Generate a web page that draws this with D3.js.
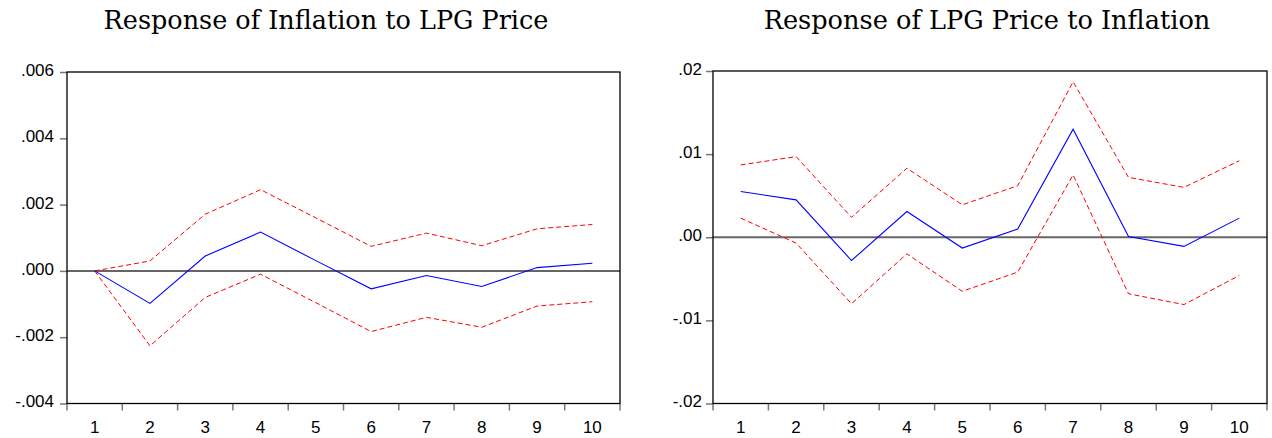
<!DOCTYPE html>
<html>
<head>
<meta charset="utf-8">
<script src="https://cdn.jsdelivr.net/npm/d3@7"></script>
<style>
  body { margin: 0; background: #fff; }
  svg { display: block; }
</style>
</head>
<body>
<svg id="irf"></svg>
<script>
let width = 1272;
let height = 438;

// periods on the x axis
const PERIODS = [1, 2, 3, 4, 5, 6, 7, 8, 9, 10];

// Response of Inflation to LPG Price
const INFL_RESP = [0, -0.00098, 0.00045, 0.00117, 0.00031, -0.00054, -0.00014, -0.00047, 0.0001, 0.00023];
const INFL_UPPER = [0, 0.0003, 0.00171, 0.00245, 0.0016, 0.00074, 0.00114, 0.00076, 0.00127, 0.0014];
const INFL_LOWER = [0, -0.00226, -0.0008, -0.0001, -0.00096, -0.00183, -0.0014, -0.0017, -0.00106, -0.00093];
const INFL_TICKS = [-0.004, -0.002, 0, 0.002, 0.004, 0.006];
const INFL_TICK_LABELS = ['-.004', '-.002', '.000', '.002', '.004', '.006'];

// Response of LPG Price to Inflation
const LPG_RESP = [0.0055, 0.0045, -0.0028, 0.0031, -0.0013, 0.001, 0.013, 0.0001, -0.0011, 0.0023];
const LPG_UPPER = [0.0087, 0.0097, 0.0024, 0.0083, 0.0039, 0.0062, 0.0187, 0.0072, 0.006, 0.0092];
const LPG_LOWER = [0.0023, -0.0007, -0.008, -0.002, -0.0065, -0.0042, 0.0075, -0.0068, -0.0081, -0.0046];
const LPG_TICKS = [-0.02, -0.01, 0, 0.01, 0.02];
const LPG_TICK_LABELS = ['-.02', '-.01', '.00', '.01', '.02'];

let svg = d3.select('#irf')
  .attr('width', width)
  .attr('height', height);

let panels = [
  {
    title: 'Response of Inflation to LPG Price',
    titleX: 326,
    titleW: 445,
    box: {left: 67, right: 620, top: 72, bottom: 403.5},
    labelPad: 6,
    resp: INFL_RESP, upper: INFL_UPPER, lower: INFL_LOWER,
    ticks: INFL_TICKS, tickLabels: INFL_TICK_LABELS
  },
  {
    title: 'Response of LPG Price to Inflation',
    titleX: 987,
    titleW: 447,
    box: {left: 713, right: 1267, top: 71, bottom: 403.5},
    labelPad: 4,
    resp: LPG_RESP, upper: LPG_UPPER, lower: LPG_LOWER,
    ticks: LPG_TICKS, tickLabels: LPG_TICK_LABELS
  }
];

panels.forEach(drawPanel);

function drawPanel(p) {
  let b = p.box;
  let g = svg.append('g');

  let x = d3.scaleBand()
    .domain(PERIODS)
    .range([b.left, b.right]);

  let y = d3.scaleLinear()
    .domain(d3.extent(p.ticks))
    .range([b.bottom, b.top]);

  // title, sized so its width matches the original
  let title = g.append('text')
    .attr('x', p.titleX)
    .attr('y', 29)
    .attr('text-anchor', 'middle')
    .attr('font-family', '"DejaVu Serif", "Liberation Serif", serif')
    .attr('font-size', 24)
    .attr('fill', '#000')
    .text(p.title);
  let tw = title.node().getComputedTextLength();
  title.attr('font-size', Math.min(26, 24 * p.titleW / tw));

  // y axis ticks + labels
  let yAxis = d3.axisLeft(y)
    .tickValues(p.ticks)
    .tickFormat((d, i) => p.tickLabels[i])
    .tickSizeInner(7)
    .tickSizeOuter(0)
    .tickPadding(p.labelPad);

  g.append('g')
    .attr('transform', `translate(${b.left},0)`)
    .call(yAxis)
    .call(a => a.select('.domain').remove())
    .call(a => a.selectAll('.tick line').attr('stroke', '#777').attr('stroke-width', 1.5))
    .call(a => a.selectAll('.tick text')
      .attr('font-family', '"Liberation Sans", Arial, sans-serif')
      .attr('font-size', 17)
      .attr('fill', '#000')
      .attr('dy', '0.2em'));

  // x axis: tick marks at band edges, labels at centres
  let edges = PERIODS.map(d => x(d)).concat([b.right]);
  g.append('g')
    .selectAll('line')
    .data(edges)
    .enter()
    .append('line')
      .attr('x1', d => d)
      .attr('x2', d => d)
      .attr('y1', b.bottom)
      .attr('y2', b.bottom + 7)
      .attr('stroke', '#777')
      .attr('stroke-width', 1.5);

  g.append('g')
    .selectAll('text')
    .data(PERIODS)
    .enter()
    .append('text')
      .attr('x', d => x(d) + x.bandwidth() / 2)
      .attr('y', b.bottom + 29)
      .attr('text-anchor', 'middle')
      .attr('font-family', '"Liberation Sans", Arial, sans-serif')
      .attr('font-size', 17)
      .attr('fill', '#000')
      .text(d => d);

  // zero line
  g.append('line')
    .attr('x1', b.left)
    .attr('x2', b.right)
    .attr('y1', y(0))
    .attr('y2', y(0))
    .attr('stroke', '#666')
    .attr('stroke-width', 2);

  let line = d3.line()
    .x((d, i) => x(PERIODS[i]) + x.bandwidth() / 2)
    .y(d => y(d));

  // confidence bands
  [p.upper, p.lower].forEach(s => {
    g.append('path')
      .datum(s)
      .attr('d', line)
      .attr('fill', 'none')
      .attr('stroke', '#ff0000')
      .attr('stroke-width', 1)
      .attr('stroke-dasharray', '5,3');
  });

  // impulse response
  g.append('path')
    .datum(p.resp)
    .attr('d', line)
    .attr('fill', 'none')
    .attr('stroke', '#0000ff')
    .attr('stroke-width', 1.1);

  // frame
  g.append('rect')
    .attr('x', b.left)
    .attr('y', b.top)
    .attr('width', b.right - b.left)
    .attr('height', b.bottom - b.top)
    .attr('fill', 'none')
    .attr('stroke', '#000')
    .attr('stroke-width', 1.3);
}
</script>
</body>
</html>
